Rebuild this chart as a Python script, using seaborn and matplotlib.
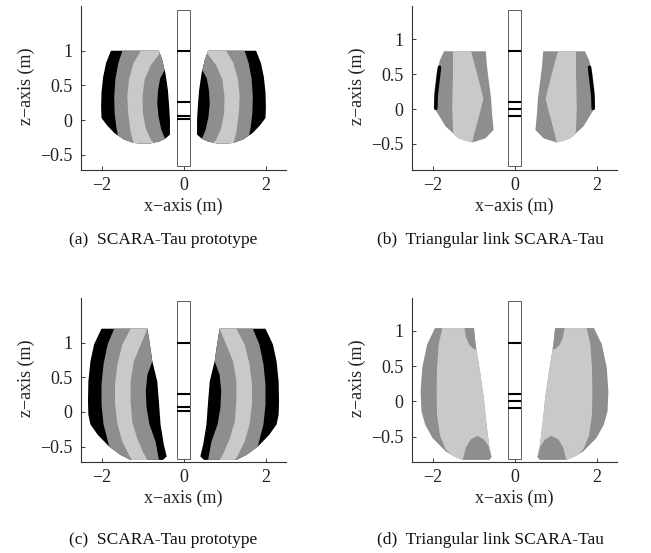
import matplotlib
matplotlib.use("Agg")
import matplotlib.pyplot as plt
import seaborn as sns

# ---------------- data ----------------
X_TICKS = [-2, 0, 2]
X_TICK_LABELS = ["\u22122", "0", "2"]
Y_TICKS = [-0.5, 0, 0.5, 1]
Y_TICK_LABELS = ["\u22120.5", "0", "0.5", "1"]
X_LABEL = "x\u2212axis (m)"
Y_LABEL = "z\u2212axis (m)"
CAPTIONS = ["(a)  SCARA-Tau prototype", "(b)  Triangular link SCARA-Tau",
            "(c)  SCARA-Tau prototype", "(d)  Triangular link SCARA-Tau"]
XLIMS = [(-2.5, 2.5), (-2.5, 2.5), (-2.5, 2.5), (-2.5, 2.5)]
YLIMS = [(-0.72, 1.645), (-0.875, 1.48), (-0.725, 1.638), (-0.866, 1.463)]

# robot column (width, bottom, top) and link marks inside it
COL_HALF_W = 0.165
COL_Z = [(-0.66, 1.59), (-0.82, 1.425), (-0.677, 1.60), (-0.82, 1.424)]
MARKS_Z = [[1.0, 0.265, 0.065, 0.01], [0.83, 0.10, 0.0, -0.10],
           [1.0, 0.265, 0.065, 0.01], [0.83, 0.10, 0.0, -0.10]]

# shades
BLACK = "#000000"
DARK = "#8e8e8e"
LIGHT = "#c9c9c9"

# ---- (a) left workspace (right one is its mirror image) ----
A_OUT_X = [-1.77, -0.60, -0.52, -0.44, -0.38, -0.35, -0.33, -0.33, -0.45, -0.60, -0.80,
           -1.00, -1.21, -1.45, -1.68, -1.86, -2.00, -2.01, -2.00, -1.96, -1.89]
A_OUT_Z = [1.00, 1.00, 0.87, 0.67, 0.43, 0.20, 0.00, -0.21, -0.27, -0.31, -0.335,
           -0.34, -0.33, -0.28, -0.19, -0.08, 0.03, 0.19, 0.40, 0.62, 0.82]
A_DARK_X = [-1.49, -1.59, -1.66, -1.69, -1.68, -1.64, -1.60, -1.45, -1.21, -1.00, -0.80,
            -0.60, -0.45, -0.54, -0.61, -0.64, -0.62, -0.57, -0.46, -0.52, -0.60]
A_DARK_Z = [1.00, 0.82, 0.60, 0.34, 0.10, -0.10, -0.22, -0.28, -0.33, -0.34, -0.335,
            -0.31, -0.27, -0.14, 0.05, 0.24, 0.43, 0.60, 0.72, 0.87, 1.00]
A_LIGHT_X = [-1.04, -1.22, -1.33, -1.37, -1.35, -1.29, -1.22, -1.00, -0.80, -0.73,
             -0.80, -0.92, -0.99, -1.00, -0.95, -0.80, -0.58, -0.60]
A_LIGHT_Z = [1.00, 0.82, 0.58, 0.34, 0.10, -0.17, -0.33, -0.34, -0.335, -0.33,
             -0.28, -0.12, 0.10, 0.34, 0.58, 0.79, 0.96, 1.00]

# ---- (b) left workspace ----
B_OUT_X = [-1.72, -0.70, -0.67, -0.62, -0.57, -0.55, -0.51, -0.71, -1.03, -1.36, -1.68,
           -1.95, -1.96, -1.95, -1.90, -1.82]
B_OUT_Z = [0.83, 0.83, 0.61, 0.37, 0.15, -0.05, -0.30, -0.42, -0.48, -0.42, -0.25,
           0.01, 0.10, 0.27, 0.51, 0.70]
B_LIGHT_X = [-1.50, -1.50, -1.52, -1.50, -1.48, -1.36, -1.20, -1.03, -1.00, -0.92,
             -0.82, -0.76, -0.80, -0.93, -1.06]
B_LIGHT_Z = [0.83, 0.50, 0.03, -0.30, -0.37, -0.42, -0.46, -0.48, -0.40, -0.22,
             0.00, 0.15, 0.25, 0.55, 0.83]
B_STROKE_X = [-1.83, -1.87, -1.91, -1.92]
B_STROKE_Z = [0.60, 0.40, 0.20, 0.01]

# ---- (c) left workspace ----
C_OUT_X = [-2.00, -0.88, -0.82, -0.76, -0.64, -0.60, -0.56, -0.48, -0.41, -0.50, -0.70,
           -1.29, -1.53, -1.81, -2.09, -2.27, -2.32, -2.33, -2.32, -2.27, -2.18]
C_OUT_Z = [1.20, 1.20, 0.975, 0.73, 0.44, 0.15, -0.18, -0.47, -0.64, -0.69, -0.69,
           -0.69, -0.62, -0.50, -0.33, -0.18, -0.04, 0.15, 0.44, 0.73, 0.975]
C_DARK_X = [-1.69, -1.85, -1.95, -2.00, -2.00, -1.95, -1.81, -1.53, -1.29, -0.70,
            -0.60, -0.68, -0.83, -0.90, -0.92, -0.88, -0.76, -0.82, -0.88]
C_DARK_Z = [1.20, 0.975, 0.69, 0.40, 0.11, -0.18, -0.50, -0.62, -0.69, -0.69,
            -0.69, -0.43, -0.18, 0.06, 0.30, 0.54, 0.73, 0.975, 1.20]
C_LIGHT_X = [-1.29, -1.49, -1.61, -1.67, -1.67, -1.61, -1.49, -1.33, -1.26, -0.88,
             -0.97, -1.13, -1.25, -1.29, -1.29, -1.21, -1.04, -0.88]
C_LIGHT_Z = [1.20, 0.975, 0.69, 0.40, 0.11, -0.18, -0.43, -0.62, -0.69, -0.69,
             -0.60, -0.38, -0.14, 0.15, 0.44, 0.73, 0.975, 1.20]

# ---- (d) left workspace ----
D_OUT_X = [-1.94, -0.99, -0.95, -0.83, -0.75, -0.69, -0.62, -0.56, -0.62, -1.27, -1.45,
           -1.68, -2.00, -2.18, -2.27, -2.29, -2.25, -2.13]
D_OUT_Z = [1.04, 1.04, 0.81, 0.38, 0.05, -0.29, -0.62, -0.79, -0.83, -0.83, -0.79,
           -0.71, -0.52, -0.33, -0.14, 0.14, 0.48, 0.81]
D_LIGHT_X = [-1.76, -1.85, -1.89, -1.90, -1.89, -1.82, -1.68, -1.55, -1.45, -1.27,
             -0.62, -0.56, -0.62, -0.69, -0.75, -0.83, -0.95, -0.99]
D_LIGHT_Z = [1.04, 0.81, 0.48, 0.14, -0.19, -0.48, -0.68, -0.755, -0.79, -0.83,
             -0.83, -0.79, -0.62, -0.29, 0.05, 0.38, 0.81, 1.04]
D_TOPBLOB_X = [-1.22, -1.18, -1.10, -0.99, -0.93, -0.95, -0.99]
D_TOPBLOB_Z = [1.04, 0.905, 0.80, 0.74, 0.74, 0.81, 1.04]
D_BOTBLOB_X = [-1.26, -1.19, -1.07, -0.90, -0.75, -0.64, -0.58, -0.56, -0.62]
D_BOTBLOB_Z = [-0.83, -0.66, -0.54, -0.49, -0.54, -0.63, -0.76, -0.79, -0.83]

# ---------------- style ----------------
sns.set_style("ticks")
plt.rcParams['font.family'] = ['Liberation Serif', 'DejaVu Serif']
plt.rcParams['axes.unicode_minus'] = True

fig = plt.figure(figsize=(6.51, 5.53), dpi=100)
AX_W, AX_H = 205 / 651, 164 / 553
positions = [[81 / 651, 1 - 170 / 553, AX_W, AX_H],
             [412 / 651, 1 - 170 / 553, AX_W, AX_H],
             [81 / 651, 1 - 462.3 / 553, AX_W, AX_H],
             [412 / 651, 1 - 462.3 / 553, AX_W, AX_H]]
axes = [fig.add_axes(p) for p in positions]


def both(ax, xs, zs, color):
    ax.fill(xs, zs, color=color, lw=0)
    ax.fill([-v for v in xs], zs, color=color, lw=0)


layers = [
    [(A_OUT_X, A_OUT_Z, BLACK), (A_DARK_X, A_DARK_Z, DARK), (A_LIGHT_X, A_LIGHT_Z, LIGHT)],
    [(B_OUT_X, B_OUT_Z, DARK), (B_LIGHT_X, B_LIGHT_Z, LIGHT)],
    [(C_OUT_X, C_OUT_Z, BLACK), (C_DARK_X, C_DARK_Z, DARK), (C_LIGHT_X, C_LIGHT_Z, LIGHT)],
    [(D_OUT_X, D_OUT_Z, DARK), (D_LIGHT_X, D_LIGHT_Z, LIGHT),
     (D_TOPBLOB_X, D_TOPBLOB_Z, DARK), (D_BOTBLOB_X, D_BOTBLOB_Z, DARK)],
]

for i, ax in enumerate(axes):
    for xs, zs, col in layers[i]:
        both(ax, xs, zs, col)
    if i == 1:
        for sgn in (1, -1):
            sns.lineplot(x=[sgn * v for v in B_STROKE_X], y=B_STROKE_Z, ax=ax,
                         color="black", lw=2.6, sort=False, estimator=None,
                         solid_capstyle="round")
    zb, zt = COL_Z[i]
    ax.fill([-COL_HALF_W, COL_HALF_W, COL_HALF_W, -COL_HALF_W],
            [zb, zb, zt, zt], facecolor="white", edgecolor="#444444", lw=0.6)
    ax.hlines(MARKS_Z[i], -COL_HALF_W, COL_HALF_W, colors="black", lw=1.5)

    ax.set_xlim(*XLIMS[i])
    ax.set_ylim(*YLIMS[i])
    ax.set_xticks(X_TICKS)
    ax.set_xticklabels(X_TICK_LABELS)
    ax.set_yticks(Y_TICKS)
    ax.set_yticklabels(Y_TICK_LABELS)
    ax.tick_params(direction="in", length=3, width=0.6, labelsize=13,
                   colors="#222222", pad=5)
    ax.tick_params(axis="y", pad=6)
    sns.despine(ax=ax)
    for s in ("left", "bottom"):
        ax.spines[s].set_linewidth(0.8)
        ax.spines[s].set_color("#333333")
    ax.set_xlabel(X_LABEL, fontsize=13, color="#222222")
    ax.set_ylabel(Y_LABEL, fontsize=13, color="#222222")
    ax.xaxis.set_label_coords(0.5, -0.17)
    ax.yaxis.set_label_coords(-0.225, 0.51)

cap_pos = [(163 / 651, 1 - 240 / 553), (490 / 651, 1 - 240 / 553),
           (163 / 651, 1 - 540 / 553), (490 / 651, 1 - 540 / 553)]
for (cx, cy), txt in zip(cap_pos, CAPTIONS):
    fig.text(cx, cy, txt, ha="center", va="center", fontsize=12.5, color="#111111")

fig.savefig("out.png", dpi=100)
